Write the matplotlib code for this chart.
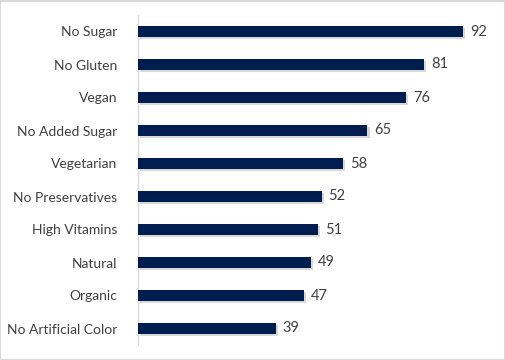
import matplotlib
matplotlib.use("Agg")
import matplotlib.pyplot as plt
import matplotlib.patheffects as pe

categories = ["No Sugar", "No Gluten", "Vegan", "No Added Sugar", "Vegetarian",
              "No Preservatives", "High Vitamins", "Natural", "Organic", "No Artificial Color"]
values = [92, 81, 76, 65, 58, 52, 51, 49, 47, 39]

plt.rcParams['font.family'] = ['Lato', 'DejaVu Sans']

fig = plt.figure(figsize=(5.06, 3.6), dpi=100)
ax = fig.add_axes([138/506, 15/360, (491-138)/506, (345-15)/360])

ypos = list(range(len(categories)))
bars = ax.barh(ypos, values, height=0.34, color="#001D4F", zorder=3)
for b in bars:
    b.set_path_effects([pe.SimplePatchShadow(offset=(1.5, -1.5), shadow_rgbFace="#808080", alpha=0.3), pe.Normal()])

for y, v in zip(ypos, values):
    ax.text(v + 2.0, y, str(v), va="center", ha="left", fontsize=10.5, color="#404040")

ax.set_ylim(len(categories) - 0.5, -0.5)
ax.set_xlim(0, 100)
ax.set_yticks(ypos)
ax.set_yticklabels(categories, fontsize=10, color="#404040")
ax.tick_params(axis='y', length=0, pad=15)
ax.set_xticks([])
for s in ["top", "right", "bottom"]:
    ax.spines[s].set_visible(False)
ax.spines["left"].set_color("#d9d9d9")
ax.spines["left"].set_linewidth(1)

fig.patches.append(plt.Rectangle((0.5/506, 0.5/360), 505/506, 359/360, transform=fig.transFigure,
                                 fill=False, edgecolor="#d9d9d9", linewidth=1.5))

fig.savefig("out.png", dpi=100)
